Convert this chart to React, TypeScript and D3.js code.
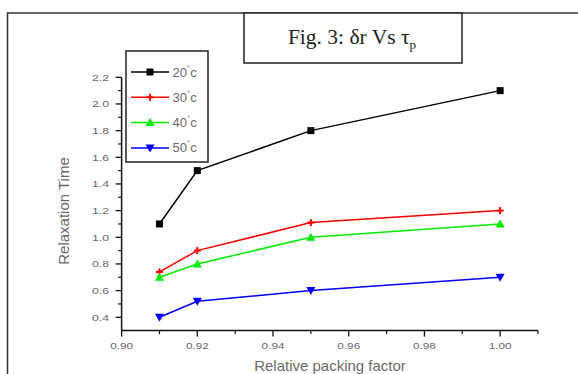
import React from "react";
import * as d3 from "d3";

const xValues = [0.91, 0.92, 0.95, 1.0];
const series20 = [1.1, 1.5, 1.8, 2.1];
const series30 = [0.74, 0.9, 1.11, 1.2];
const series40 = [0.7, 0.8, 1.0, 1.1];
const series50 = [0.4, 0.52, 0.6, 0.7];
const seriesNames = ["20", "30", "40", "50"];
const seriesColors = ["#000000", "#ff0000", "#00ee00", "#0000ff"];
const seriesMarkers = ["square", "plus", "up", "down"];
const xTicks = [0.9, 0.92, 0.94, 0.96, 0.98, 1.0];
const yTicks = [0.4, 0.6, 0.8, 1.0, 1.2, 1.4, 1.6, 1.8, 2.0, 2.2];

const W = 578;
const H = 374;

function Marker({ type, x, y, color }: { type: string; x: number; y: number; color: string }) {
  if (type === "square") return <rect x={x - 3.5} y={y - 3.5} width={7} height={7} fill={color} />;
  if (type === "plus")
    return (
      <g stroke={color} strokeWidth={2}>
        <line x1={x - 3.5} x2={x + 3.5} y1={y} y2={y} />
        <line x1={x} x2={x} y1={y - 3.5} y2={y + 3.5} />
      </g>
    );
  if (type === "up") return <path d={`M${x},${y - 4.5}L${x + 4.5},${y + 3.5}L${x - 4.5},${y + 3.5}Z`} fill={color} />;
  return <path d={`M${x},${y + 4.5}L${x + 4.5},${y - 3.5}L${x - 4.5},${y - 3.5}Z`} fill={color} />;
}

export default function App() {
  const x = d3.scaleLinear().domain([0.9, 1.01]).range([121.6, 538]);
  const y = d3.scaleLinear().domain([0.3, 2.2]).range([330.6, 77.3]);
  const all = [series20, series30, series40, series50];
  const line = d3
    .line<number>()
    .x((_, i) => x(xValues[i]))
    .y((d) => y(d));
  const xMinor = d3.range(0, 11).map((i) => 0.9 + i * 0.01).filter((_, i) => i % 2 === 1);
  const yMinor = d3.range(0, 9).map((i) => 0.5 + i * 0.2);
  const textCol = "#6a6a6a";
  const axisCol = "#111";
  const sans = "Liberation Sans, Arial, sans-serif";
  return (
    <svg width={W} height={H} style={{ position: "fixed", left: 0, top: 0, background: "#fff" }}>
      {/* outer frame */}
      <path d={`M7.5,${H + 5}V13H${W + 5}`} fill="none" stroke="#333" strokeWidth={1.5} />
      {/* title box */}
      <rect x={244} y={13} width={218} height={50} fill="#fff" stroke="#222" strokeWidth={1.5} />
      <text x={352} y={44} textAnchor="middle" fontFamily="Liberation Serif, Times New Roman, serif" fontSize={21.5} fill="#222">
        Fig. 3: δr Vs τ<tspan fontSize={13} dy={5}>p</tspan>
      </text>

      {/* axes */}
      <line x1={x(0.9)} x2={x(0.9)} y1={y(2.2)} y2={y(0.3)} stroke={axisCol} strokeWidth={1.5} />
      <line x1={x(0.9)} x2={x(1.01)} y1={y(0.3)} y2={y(0.3)} stroke={axisCol} strokeWidth={1.5} />
      {yTicks.map((t) => (
        <g key={"yt" + t}>
          <line x1={x(0.9) - 6} x2={x(0.9)} y1={y(t)} y2={y(t)} stroke={axisCol} strokeWidth={1.3} />
          <text
            transform={`translate(109,${y(t) + 3.4}) scale(1.25,1)`}
            textAnchor="end"
            fontFamily={sans}
            fontSize={9.8}
            fill={textCol}
          >
            {t.toFixed(1)}
          </text>
        </g>
      ))}
      {yMinor.map((t) => (
        <line key={"ym" + t} x1={x(0.9) - 3.5} x2={x(0.9)} y1={y(t)} y2={y(t)} stroke={axisCol} strokeWidth={1.2} />
      ))}
      {xTicks.map((t) => (
        <g key={"xt" + t}>
          <line x1={x(t)} x2={x(t)} y1={y(0.3)} y2={y(0.3) + 6} stroke={axisCol} strokeWidth={1.3} />
          <text
            transform={`translate(${x(t)},349) scale(1.2,1)`}
            textAnchor="middle"
            fontFamily={sans}
            fontSize={9.8}
            fill={textCol}
          >
            {t.toFixed(2)}
          </text>
        </g>
      ))}
      {xMinor.map((t) => (
        <line key={"xm" + t} x1={x(t)} x2={x(t)} y1={y(0.3)} y2={y(0.3) + 3.5} stroke={axisCol} strokeWidth={1.2} />
      ))}
      <line x1={x(1.01)} x2={x(1.01)} y1={y(0.3)} y2={y(0.3) + 3.5} stroke={axisCol} strokeWidth={1.2} />

      {/* axis titles */}
      <text transform={`translate(69,211) rotate(-90)`} textAnchor="middle" fontFamily={sans} fontSize={15} fill={textCol}>
        Relaxation Time
      </text>
      <text x={330} y={371} textAnchor="middle" fontFamily={sans} fontSize={15} fill={textCol}>
        Relative packing factor
      </text>

      {/* series */}
      {all.map((s, i) => (
        <g key={"s" + i}>
          <path d={line(s) || ""} fill="none" stroke={seriesColors[i]} strokeWidth={1.5} />
          {s.map((v, j) => (
            <Marker key={j} type={seriesMarkers[i]} x={x(xValues[j])} y={y(v)} color={seriesColors[i]} />
          ))}
        </g>
      ))}

      {/* legend */}
      <rect x={126} y={51} width={82} height={111} fill="#fff" stroke="#222" strokeWidth={1.5} />
      {seriesNames.map((n, i) => {
        const ly = 72 + i * 25.3;
        return (
          <g key={"lg" + n}>
            <line x1={131} x2={169} y1={ly} y2={ly} stroke={seriesColors[i]} strokeWidth={1.5} />
            <Marker type={seriesMarkers[i]} x={150} y={ly} color={seriesColors[i]} />
            <text x={172.5} y={ly + 4.5} fontFamily={sans} fontSize={13} fill={textCol}>
              {n}
              <tspan fontSize={8} dy={-6}>°</tspan>
              <tspan dy={6}>c</tspan>
            </text>
          </g>
        );
      })}
    </svg>
  );
}
